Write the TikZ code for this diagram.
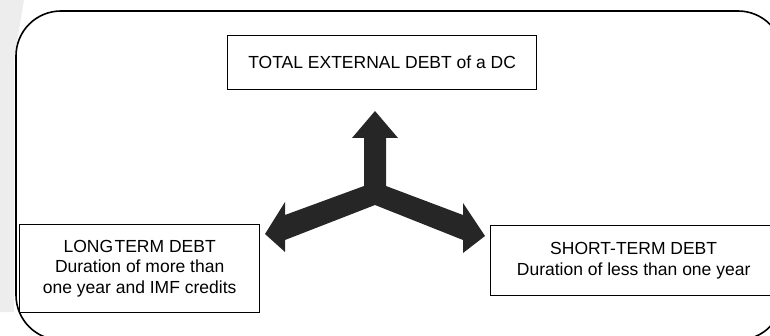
\documentclass[tikz,border=0pt]{standalone}
\usepackage{fontspec}
\setmainfont{Liberation Sans}
\begin{document}
\begin{tikzpicture}[x=1pt,y=-1pt,
  box/.style={draw, line width=1.3pt, align=center, inner sep=0pt,
    font=\fontsize{17.5}{20.5}\selectfont},
  frame/.style={draw, line width=1.6pt, rounded corners=45pt},
  arrowfill/.style={fill=black!85}]
\useasboundingbox (0,0) rectangle (770,336);
\begin{scope}
\clip (0,0) rectangle (770,336);
\fill[black!7] (0,0) -- (24,0) -- (14,60) -- (14,312) -- (0,312) -- cycle;
\draw[frame] (16,11) rectangle (783,340);
\node[box, minimum width=309pt, minimum height=54pt, anchor=north west] (total) at (227,35)
  {TOTAL EXTERNAL DEBT of a DC};
\node[box, minimum width=240pt, minimum height=88pt, anchor=north west] (long) at (19,224)
  {LONG\hspace{1.5pt}TERM DEBT\\Duration of more than\\one year and IMF credits};
\node[box, minimum width=286pt, minimum height=70pt, anchor=north west] (short) at (490,225)
  {SHORT-TERM DEBT\\Duration of less than one year};
\coordinate (hub) at (375,205);
\fill[arrowfill] (hub) -- (285,240) -- (285,252) -- (265,234) -- (285,202) -- (285,215)
  -- (364,186) -- (364,138) -- (352,138) -- (375,111) -- (398,138) -- (386,138)
  -- (386,186) -- (463,215) -- (463,203) -- (485,236) -- (463,253) -- (463,240) -- cycle;
\end{scope}
\end{tikzpicture}
\end{document}
